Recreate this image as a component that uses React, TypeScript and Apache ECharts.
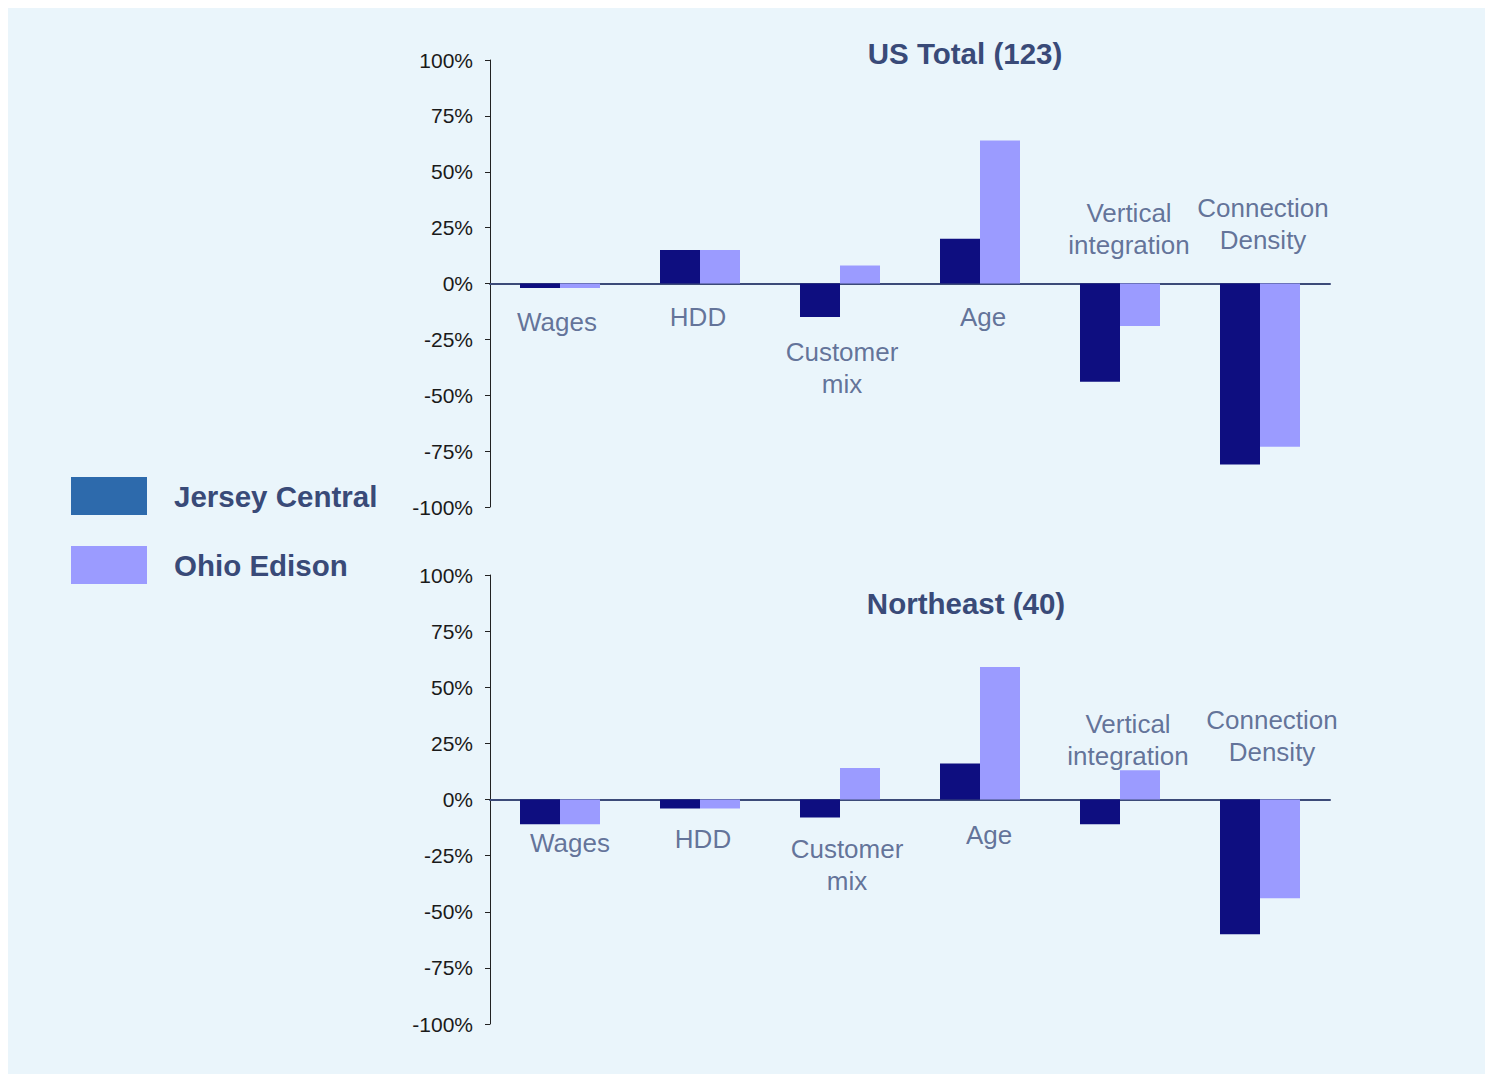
import React, { useEffect, useRef } from "react";
import * as echarts from "echarts";

const categories = ["Wages", "HDD", "Customer\nmix", "Age", "Vertical\nintegration", "Connection\nDensity"];
const seriesNames = ["Jersey Central", "Ohio Edison"];
const yTicks = { min: -100, max: 100, interval: 25 };

// US Total (123)
const usJersey = [-2, 15, -15, 20, -44, -81];
const usOhio = [-2, 15, 8, 64, -19, -73];
// Northeast (40)
const neJersey = [-11, -4, -8, 16, -11, -60];
const neOhio = [-11, -4, 14, 59, 13, -44];

const titles = ["US Total (123)", "Northeast (40)"];

// Category label anchors (value units) and small horizontal nudges (px)
const usLabelAnchor = [-17.4, -15.2, -37.8, -14.8, 24.2, 26.4];
const usLabelNudge = [-3, -2, 2, 3, 9, 3];
const neLabelAnchor = [-19.2, -17.8, -29.2, -16.0, 26.7, 28.1];
const neLabelNudge = [10, 3, 7, 9, 8, 12];

const FONT = "'Liberation Sans', Arial, Helvetica, sans-serif";
const TEXT_BLUE = "#394A78";
const LABEL_BLUE = "#3F5180";
const NAVY = "#0E0E80";
const LAVENDER = "#9B9BFF";
const LEGEND_JC = "#2D6AAC";

export default function App() {
  const ref = useRef<HTMLDivElement>(null);

  useEffect(() => {
    if (!ref.current) return;
    const chart = echarts.init(ref.current, undefined, { renderer: "svg" });

    const grids = [
      { left: 482, top: 52, width: 840, height: 447 },
      { left: 482, top: 567, width: 840, height: 449 },
    ];

    const xAxes = grids.map((_, i) => ({
      type: "category",
      gridIndex: i,
      data: categories,
      axisLine: { onZero: true, lineStyle: { color: "#3C4A78", width: 2 } },
      axisTick: { show: false },
      axisLabel: { show: false },
      splitLine: { show: false },
    }));

    const yAxes = grids.map((_, i) => ({
      type: "value",
      gridIndex: i,
      min: yTicks.min,
      max: yTicks.max,
      interval: yTicks.interval,
      axisLine: { show: true, onZero: false, lineStyle: { color: "#222", width: 1 } },
      axisTick: { show: true, length: 5, lineStyle: { color: "#222" } },
      splitLine: { show: false },
      axisLabel: {
        formatter: "{value}%",
        fontSize: 21,
        color: "#1a1a1a",
        fontFamily: FONT,
        margin: 17,
      },
    }));

    const barSeries = (name: string, data: number[], color: string, idx: number) => ({
      name,
      type: "bar",
      xAxisIndex: idx,
      yAxisIndex: idx,
      data,
      barWidth: 40,
      barGap: "0%",
      itemStyle: { color },
      z: 1,
    });

    const labelSeries = (anchor: number[], nudge: number[], idx: number) => ({
      name: "labels" + idx,
      type: "scatter",
      xAxisIndex: idx,
      yAxisIndex: idx,
      symbolSize: 0,
      silent: true,
      z: 5,
      data: anchor.map((v, i) => ({
        value: [i, v],
        label: { offset: [nudge[i], 0] },
      })),
      label: {
        show: true,
        position: "inside",
        formatter: (p: any) => categories[p.dataIndex],
        fontSize: 26,
        lineHeight: 32,
        color: LABEL_BLUE,
        fontFamily: FONT,
        align: "center",
        verticalAlign: "middle",
      },
    });

    const titleText = (text: string, x: number, y: number) => ({
      type: "text",
      x,
      y,
      style: {
        text,
        fontSize: 29.5,
        fontWeight: "bold",
        fontFamily: FONT,
        fill: TEXT_BLUE,
        align: "center",
        verticalAlign: "middle",
      },
    });

    chart.setOption({
      animation: false,
      backgroundColor: "#EAF5FB",
      grid: grids,
      xAxis: xAxes,
      yAxis: yAxes,
      legend: {
        orient: "vertical",
        left: 63,
        top: 469,
        padding: 0,
        itemWidth: 76,
        itemHeight: 38,
        itemGap: 31,
        icon: "rect",
        selectedMode: false,
        data: [
          { name: seriesNames[0], itemStyle: { color: LEGEND_JC } },
          { name: seriesNames[1], itemStyle: { color: LAVENDER } },
        ],
        textStyle: {
          fontSize: 29.5,
          fontWeight: "bold",
          color: TEXT_BLUE,
          fontFamily: FONT,
          padding: [0, 0, 0, 22],
        },
      },
      graphic: [titleText(titles[0], 957, 45), titleText(titles[1], 958, 595)],
      series: [
        barSeries(seriesNames[0], usJersey, NAVY, 0),
        barSeries(seriesNames[1], usOhio, LAVENDER, 0),
        barSeries(seriesNames[0], neJersey, NAVY, 1),
        barSeries(seriesNames[1], neOhio, LAVENDER, 1),
        labelSeries(usLabelAnchor, usLabelNudge, 0),
        labelSeries(neLabelAnchor, neLabelNudge, 1),
      ],
    });

    return () => chart.dispose();
  }, []);

  return <div ref={ref} style={{ width: 1477, height: 1066 }} />;
}
